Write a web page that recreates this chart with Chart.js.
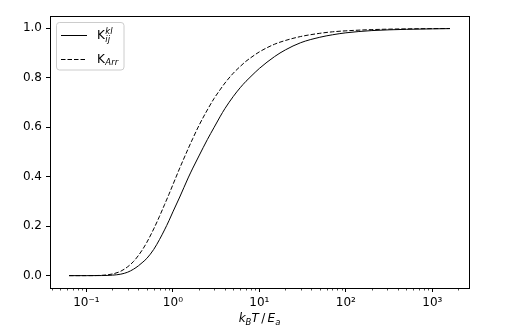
<!DOCTYPE html>
<html><head><meta charset="utf-8">
<script src="https://cdn.jsdelivr.net/npm/chart.js@4/dist/chart.umd.min.js"></script>
<style>html,body{margin:0;padding:0;background:#fff}#wrap{width:515px;height:335px}</style>
</head><body><div id="wrap"><canvas id="c" width="515" height="335"></canvas></div>
<script>
// x = k_B T / E_a
const xValues = [0.063, 0.1, 0.15, 0.2, 0.25, 0.3, 0.35, 0.4, 0.45, 0.5, 0.6, 0.7, 0.8, 0.9, 1.0, 1.2, 1.5, 1.7, 2, 2.5, 3, 3.5, 4, 5, 6, 7, 8, 10, 15, 20, 30, 50, 70, 100, 200, 500, 1000, 1600];
// solid: K_ij^kl
const kIjKl = [0, 0, 0.0003, 0.002, 0.006, 0.014, 0.026, 0.040, 0.055, 0.070, 0.106, 0.146, 0.185, 0.222, 0.258, 0.318, 0.395, 0.435, 0.484, 0.550, 0.600, 0.642, 0.676, 0.725, 0.760, 0.786, 0.806, 0.838, 0.886, 0.913, 0.942, 0.964, 0.974, 0.982, 0.991, 0.996, 0.998, 0.999];
// dashed: K_Arr
const kArr = [0, 0.00005, 0.0013, 0.0067, 0.018, 0.036, 0.057, 0.082, 0.108, 0.135, 0.189, 0.240, 0.287, 0.329, 0.368, 0.435, 0.513, 0.555, 0.607, 0.670, 0.717, 0.751, 0.779, 0.819, 0.846, 0.867, 0.882, 0.905, 0.936, 0.951, 0.967, 0.980, 0.986, 0.990, 0.995, 0.998, 0.999, 0.9994];
const yTicks = [0, 0.2, 0.4, 0.6, 0.8, 1.0];
const yTickLabels = ['0.0', '0.2', '0.4', '0.6', '0.8', '1.0'];
const xMajorTicks = [0.1, 1, 10, 100, 1000];
const xTickLabels = ['10\u207B\u00B9', '10\u2070', '10\u00B9', '10\u00B2', '10\u00B3'];

const FONT = 'DejaVu Sans';
const toPts = ys => xValues.map((x, i) => ({x: x, y: ys[i]}));

const framePlugin = {
  id: 'frame',
  afterDraw(chart) {
    const ctx = chart.ctx, a = chart.chartArea;
    const xs = chart.scales.x;
    ctx.save();
    ctx.strokeStyle = '#000';
    ctx.lineWidth = 1;
    ctx.strokeRect(Math.round(a.left) + 0.5, Math.round(a.top) + 0.5, Math.round(a.right - a.left), Math.round(a.bottom - a.top));
    // minor log ticks
    ctx.lineWidth = 0.7;
    ctx.beginPath();
    for (let n = -2; n <= 3; n++) {
      for (let m = 2; m <= 9; m++) {
        const v = m * Math.pow(10, n);
        if (v < xs.min || v > xs.max) continue;
        const px = Math.round(xs.getPixelForValue(v)) + 0.5;
        ctx.moveTo(px, a.bottom);
        ctx.lineTo(px, a.bottom + 2.5);
      }
    }
    ctx.stroke();
    // legend
    ctx.fillStyle = 'rgba(255,255,255,0.8)';
    ctx.strokeStyle = '#cccccc';
    ctx.lineWidth = 1;
    ctx.beginPath();
    ctx.roundRect(56.5, 22.5, 67.5, 47.5, 3);
    ctx.fill();
    ctx.stroke();
    ctx.strokeStyle = '#000';
    ctx.lineWidth = 1;
    ctx.beginPath(); ctx.moveTo(61, 35.5); ctx.lineTo(87, 35.5); ctx.stroke();
    ctx.setLineDash([4.5, 2]);
    ctx.beginPath(); ctx.moveTo(61, 59.5); ctx.lineTo(87, 59.5); ctx.stroke();
    ctx.setLineDash([]);
    ctx.fillStyle = '#000';
    ctx.textBaseline = 'alphabetic';
    ctx.textAlign = 'left';
    ctx.font = '12px "' + FONT + '"';
    ctx.fillText('K', 97, 39);
    let kw = ctx.measureText('K').width;
    ctx.font = 'italic 8.5px "' + FONT + '"';
    ctx.fillText('kl', 97 + kw + 0.5, 33.5);
    ctx.fillText('ij', 97 + kw + 0.5, 42);
    ctx.font = '12px "' + FONT + '"';
    ctx.fillText('K', 97, 62.5);
    ctx.font = 'italic 8.5px "' + FONT + '"';
    ctx.fillText('Arr', 97 + kw + 0.5, 65);
    // x axis label: k_B T / E_a
    const parts = [
      {t: 'k', f: 'italic 12px', dy: 0},
      {t: 'B', f: 'italic 8.5px', dy: 2.5},
      {t: 'T', f: 'italic 12px', dy: 0},
      {t: '\u2009/\u2009', f: '12px', dy: 0},
      {t: 'E', f: 'italic 12px', dy: 0},
      {t: 'a', f: 'italic 8.5px', dy: 2.5}
    ];
    let total = 0;
    parts.forEach(p => { ctx.font = p.f + ' "' + FONT + '"'; p.w = ctx.measureText(p.t).width; total += p.w; });
    let x0 = (a.left + a.right) / 2 - total / 2;
    parts.forEach(p => { ctx.font = p.f + ' "' + FONT + '"'; ctx.fillText(p.t, x0, 322 + p.dy); x0 += p.w; });
    ctx.restore();
  }
};

new Chart(document.getElementById('c'), {
  type: 'scatter',
  data: {
    datasets: [
      {label: 'K_ij^kl', data: toPts(kIjKl), showLine: true, borderColor: '#000', borderWidth: 1, pointRadius: 0, cubicInterpolationMode: 'monotone', fill: false},
      {label: 'K_Arr', data: toPts(kArr), showLine: true, borderColor: '#000', borderWidth: 1, borderDash: [4.5, 2], pointRadius: 0, cubicInterpolationMode: 'monotone', fill: false}
    ]
  },
  options: {
    responsive: false,
    devicePixelRatio: 1,
    animation: false,
    layout: {padding: {left: 0, right: 46, top: 16, bottom: 0}},
    plugins: {legend: {display: false}, tooltip: {enabled: false}},
    scales: {
      x: {
        type: 'logarithmic',
        position: 'bottom',
        min: 0.0379,
        max: 2655,
        afterFit: s => { s.height = 47; },
        afterBuildTicks: s => { s.ticks = xMajorTicks.map(v => ({value: v, major: true})); },
        ticks: {
          callback: (v, i) => xTickLabels[i],
          font: {family: FONT, size: 12},
          color: '#000',
          padding: 4,
          maxRotation: 0,
          autoSkip: false
        },
        grid: {display: true, drawOnChartArea: false, drawTicks: true, tickLength: 4, tickColor: '#000', tickWidth: 1},
        border: {display: false}
      },
      y: {
        type: 'linear',
        min: -0.05,
        max: 1.05,
        afterFit: s => { s.width = 50; },
        afterBuildTicks: s => { s.ticks = yTicks.map(v => ({value: v})); },
        ticks: {
          callback: (v, i) => yTickLabels[i],
          font: {family: FONT, size: 12},
          color: '#000',
          padding: 4
        },
        grid: {display: true, drawOnChartArea: false, drawTicks: true, tickLength: 4, tickColor: '#000', tickWidth: 1},
        border: {display: false}
      }
    }
  },
  plugins: [framePlugin]
});
</script>
</body></html>
